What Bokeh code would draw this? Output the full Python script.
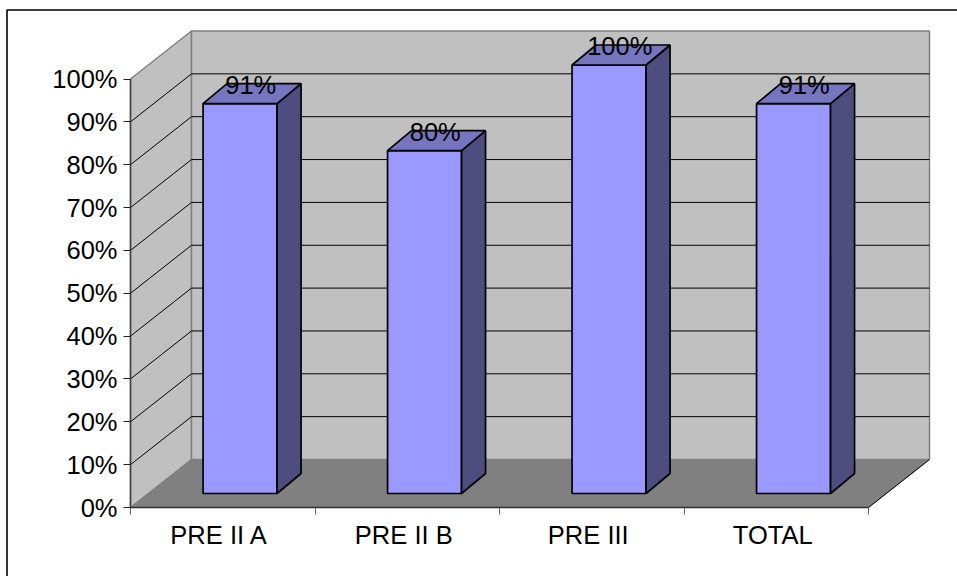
from bokeh.embed import file_html
from bokeh.resources import INLINE
from bokeh.plotting import figure
from bokeh.models import FixedTicker, LinearAxis, PrintfTickFormatter, Range1d
from bokeh.core.properties import value

categories = ["PRE II A", "PRE II B", "PRE III", "TOTAL"]
percent = [91, 80, 100, 91]
y_ticks = [0, 10, 20, 30, 40, 50, 60, 70, 80, 90, 100]

FONT = "Liberation Sans"
FONT_SIZE = "25.5px"
WIDTH, HEIGHT = 957, 576

# Pixel layout of the oblique box: the value axis runs from y=507 up to y=78,
# the category axis from x=130 to x=868, and depth shifts by (61, -48).
X0, X1 = 130.0, 868.0
Y0, Y100 = 507.0, 78.5
px_per_cat = (X1 - X0) / len(categories)
px_per_pct = (Y0 - Y100) / 100.0
DEPTH_X, DEPTH_Y = 61.0 / px_per_cat, 48.0 / px_per_pct

x_range = Range1d(-X0 / px_per_cat, (WIDTH - X0) / px_per_cat)
y_range = Range1d(-(HEIGHT - Y0) / px_per_pct, Y0 / px_per_pct)

p = figure(width=WIDTH, height=HEIGHT, x_range=x_range, y_range=y_range,
           output_backend="svg", toolbar_location=None, min_border=0,
           background_fill_color="white", border_fill_color="white",
           outline_line_color=None)
p.grid.visible = False
p.axis.visible = False


def dx(px):
    return px / px_per_cat


def dy(px):
    return px / px_per_pct


# Chart area border: only its left and top edges fall inside the page
bl, br = -123.5 / px_per_cat, (WIDTH + 5 - X0) / px_per_cat
bt, bb = (Y0 - 9.5) / px_per_pct, (Y0 - HEIGHT - 5) / px_per_pct
p.line([bl, bl, br], [bb, bt, bt], line_color="black", line_width=1.6)

# Walls and floor
p.patch([0, DEPTH_X, DEPTH_X, 0], [0, DEPTH_Y, 100 + DEPTH_Y, 100],
        fill_color="#c0c0c0", line_color="#808080", line_width=1.5)
p.patch([DEPTH_X, 4 + DEPTH_X, 4 + DEPTH_X, DEPTH_X],
        [DEPTH_Y, DEPTH_Y, 100 + DEPTH_Y, 100 + DEPTH_Y],
        fill_color="#c0c0c0", line_color="#808080", line_width=1.5)
p.patch([0, 4, 4 + DEPTH_X, DEPTH_X], [0, 0, DEPTH_Y, DEPTH_Y],
        fill_color="#808080", line_color="#808080", line_width=1)
p.line([4, 4 + DEPTH_X], [0, DEPTH_Y], line_color="black", line_width=1)

# Gridlines across the side wall and the back wall
for t in y_ticks[1:-1]:
    p.line([0, DEPTH_X, 4 + DEPTH_X], [t, t + DEPTH_Y, t + DEPTH_Y],
           line_color="black", line_width=1)

# Bars: front face, top and side, standing slightly forward on the floor
BAR_W = dx(74)
BAR_DX, BAR_DY = dx(24), dy(20)
BASE = dy(14)
for i, v in enumerate(percent):
    left = i + 0.5 + dx(17.3) - BAR_W / 2
    right = left + BAR_W
    top = BASE + v
    p.patch([left, right, right, left], [BASE, BASE, top, top],
            fill_color="#9999ff", line_color="black", line_width=1.7)
    p.patch([right, right + BAR_DX, right + BAR_DX, right],
            [BASE, BASE + BAR_DY, top + BAR_DY, top],
            fill_color="#4d4d80", line_color="black", line_width=1.7)
    p.patch([left, right, right + BAR_DX, left + BAR_DX],
            [top, top, top + BAR_DY, top + BAR_DY],
            fill_color="#7676c0", line_color="black", line_width=1.7)
    p.text([i + 0.5 + dx(28)], [top + dy(19)], text=[f"{v}%"],
           text_font=value(FONT), text_font_size=FONT_SIZE, text_color="black",
           text_align="center", text_baseline="middle")

# Axes pinned to the front edge of the box
y_axis = LinearAxis(fixed_location=0, bounds=(0, 100), ticker=FixedTicker(ticks=y_ticks),
                    formatter=PrintfTickFormatter(format="%d%%"))
y_axis.axis_line_color = "#404040"
y_axis.axis_line_width = 1.5
y_axis.major_tick_in = 0
y_axis.major_tick_out = 7
y_axis.minor_tick_line_color = None
y_axis.major_tick_line_color = "#202020"
y_axis.major_label_text_font = FONT
y_axis.major_label_text_font_size = FONT_SIZE
y_axis.major_label_text_color = "black"
y_axis.major_label_standoff = 6
p.add_layout(y_axis, "left")

# Category labels sit a little left of the slot centres
centers = [i + 0.5 - dx(3.5) for i in range(len(categories))]
x_axis = LinearAxis(fixed_location=0, bounds=(0, len(categories)),
                    ticker=FixedTicker(ticks=centers, minor_ticks=list(range(len(categories) + 1))),
                    major_label_overrides={c: n for c, n in zip(centers, categories)})
x_axis.axis_line_color = "#303030"
x_axis.axis_line_width = 1.5
x_axis.major_tick_line_color = None
x_axis.major_tick_in = 0
x_axis.major_tick_out = 0
x_axis.minor_tick_in = 0
x_axis.minor_tick_out = 7
x_axis.minor_tick_line_color = "#606060"
x_axis.major_label_text_font = FONT
x_axis.major_label_text_font_size = FONT_SIZE
x_axis.major_label_text_color = "black"
x_axis.major_label_standoff = 6
p.add_layout(x_axis, "below")

open("out.html", "w").write(file_html(p, INLINE))
